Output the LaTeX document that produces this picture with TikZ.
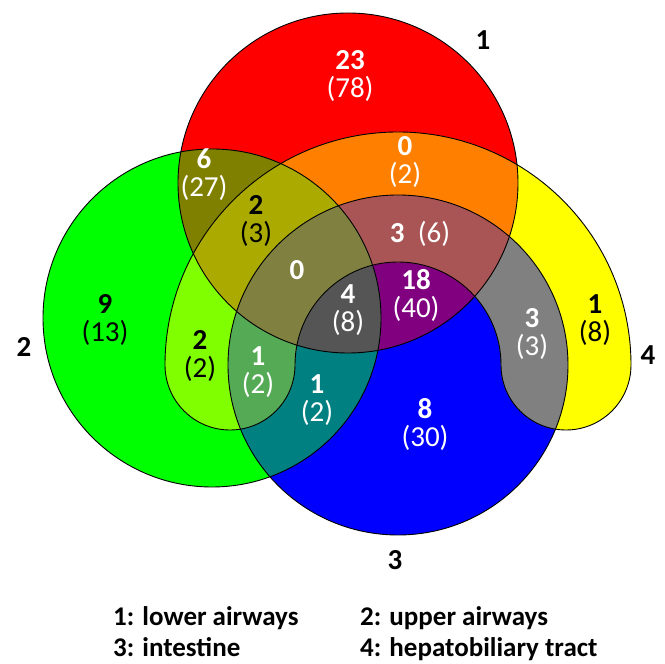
\documentclass[tikz,border=0pt]{standalone}
\usepackage{fontspec}
\setmainfont{Carlito}
\definecolor{cA}{RGB}{255,0,0}
\definecolor{cB}{RGB}{0,255,0}
\definecolor{cC}{RGB}{0,0,255}
\definecolor{cD}{RGB}{255,255,0}
\definecolor{cAB}{RGB}{128,128,0}
\definecolor{cAC}{RGB}{128,0,128}
\definecolor{cAD}{RGB}{255,128,0}
\definecolor{cBC}{RGB}{0,128,128}
\definecolor{cBD}{RGB}{128,255,0}
\definecolor{cCD}{RGB}{128,128,128}
\definecolor{cABC}{RGB}{85,85,85}
\definecolor{cABD}{RGB}{170,170,0}
\definecolor{cACD}{RGB}{170,85,85}
\definecolor{cBCD}{RGB}{85,170,85}
\definecolor{cABCD}{RGB}{128,128,64}
\begin{document}
\begin{tikzpicture}[x=1pt,y=1pt,
  numw/.style={text=white,align=center,inner sep=0pt,font=\fontsize{29}{28}\selectfont},
  numb/.style={numw,text=black},
  setlabel/.style={inner sep=0pt,font=\fontsize{29}{30}\selectfont\bfseries},
  legend/.style={anchor=base west,inner sep=0pt,font=\fontsize{27}{30}\selectfont\bfseries},
  outline/.style={draw=black,line width=0.9pt}]
\useasboundingbox (0,0) rectangle (665,664);
\def\pA{(348,481) circle (170pt)}
\def\pB{(212,346) circle (169pt)}
\def\pC{(398,299) circle (170pt)}
\def\pD{(631,299) arc (0:180:233pt) arc (180:360:65pt) arc (180:0:103pt) arc (180:360:65pt) -- cycle}
% single sets
\fill[cA] \pA;
\fill[cB] \pB;
\fill[cC] \pC;
\fill[cD] \pD;
% pairs
\begin{scope}\clip \pA; \fill[cAB] \pB; \end{scope}
\begin{scope}\clip \pA; \fill[cAC] \pC; \end{scope}
\begin{scope}\clip \pA; \fill[cAD] \pD; \end{scope}
\begin{scope}\clip \pB; \fill[cBC] \pC; \end{scope}
\begin{scope}\clip \pB; \fill[cBD] \pD; \end{scope}
\begin{scope}\clip \pC; \fill[cCD] \pD; \end{scope}
% triples
\begin{scope}\clip \pA; \clip \pB; \fill[cABC] \pC; \end{scope}
\begin{scope}\clip \pA; \clip \pB; \fill[cABD] \pD; \end{scope}
\begin{scope}\clip \pA; \clip \pC; \fill[cACD] \pD; \end{scope}
\begin{scope}\clip \pB; \clip \pC; \fill[cBCD] \pD; \end{scope}
% quadruple
\begin{scope}\clip \pA; \clip \pB; \clip \pC; \fill[cABCD] \pD; \end{scope}
% outlines
\draw[outline] \pA;
\draw[outline] \pB;
\draw[outline] \pC;
\draw[outline] \pD;
% region counts
\node[numw] (rA) at (350,588) {\textbf{23}\\(78)};
\node[numw] (rAB) at (204,489) {\textbf{6}\\(27)};
\node[numw] (rAD) at (405,502) {\textbf{0}\\(2)};
\node[numb] (rABD) at (256,443) {\textbf{2}\\(3)};
\node[numw] (rACD) at (420,430) {\textbf{3}\ \ (6)};
\node[numw] (rABCD) at (297,394) {\textbf{0}};
\node[numw] (rABC) at (348,354) {\textbf{4}\\(8)};
\node[numw] (rAC) at (416,368) {\textbf{18}\\(40)};
\node[numb] (rB) at (105,344) {\textbf{9}\\(13)};
\node[numb] (rBD) at (200,308) {\textbf{2}\\(2)};
\node[numw] (rBCD) at (258,292) {\textbf{1}\\(2)};
\node[numw] (rBC) at (317,264) {\textbf{1}\\(2)};
\node[numw] (rC) at (425,239) {\textbf{8}\\(30)};
\node[numw] (rCD) at (532,330) {\textbf{3}\\(3)};
\node[numb] (rD) at (595,344) {\textbf{1}\\(8)};
% set labels
\node[setlabel] (l1) at (483,624) {1};
\node[setlabel] (l2) at (24,317) {2};
\node[setlabel] (l3) at (395,104) {3};
\node[setlabel] (l4) at (648,309) {4};
% legend
\node[legend] (g1) at (113,38) {1: lower airways};
\node[legend] (g2) at (360,38) {2: upper airways};
\node[legend] (g3) at (113,7) {3: intestine};
\node[legend] (g4) at (360,7) {4: hepatobiliary tract};
\end{tikzpicture}
\end{document}
